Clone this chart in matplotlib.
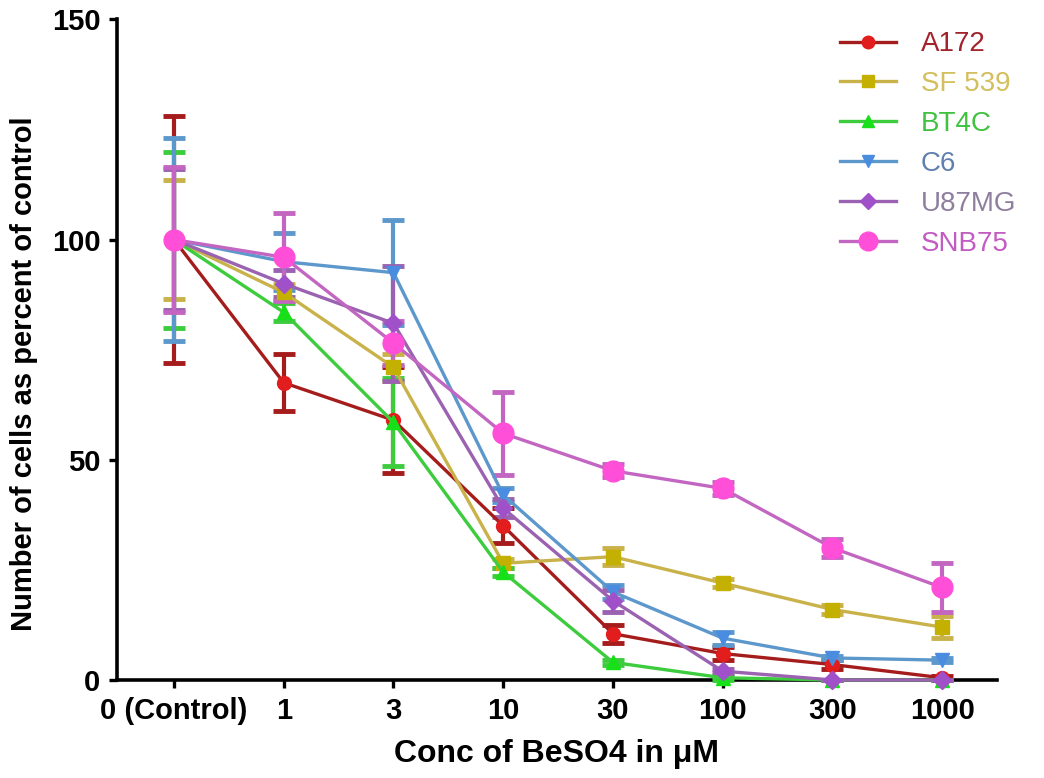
import numpy as np
import matplotlib
matplotlib.use("Agg")
import matplotlib.pyplot as plt
from matplotlib.lines import Line2D

plt.rcParams["font.family"] = ["Liberation Sans", "DejaVu Sans"]

# --- data: % of control cells for each BeSO4 concentration ---
conc_labels = ["0 (Control)", "1", "3", "10", "30", "100", "300", "1000"]

a172 = [100, 67.5, 59, 35, 10.5, 6, 3.5, 0.5]
a172_err = [28, 6.5, 12, 4, 2, 1.5, 1, 0.5]

sf539 = [100, 88, 71, 26.5, 28, 22, 16, 12]
sf539_err = [13.5, 2, 3, 1, 2, 1, 1, 2.5]

bt4c = [100, 83.5, 58.5, 24.5, 4, 0.5, 0, 0]
bt4c_err = [20, 2, 10, 1, 0.5, 0.5, 0, 0]

c6 = [100, 95, 92.5, 42, 20, 9.5, 5, 4.5]
c6_err = [23, 6.5, 12, 1.5, 1.5, 1.5, 0.5, 0.5]

u87mg = [100, 90, 81, 39, 18, 2, 0, 0]
u87mg_err = [16, 3, 13, 2, 2.5, 0.5, 0, 0]

snb75 = [100, 96, 76.5, 56, 47.5, 43.5, 30, 21]
snb75_err = [16.5, 10, 5, 9.5, 1.5, 1.5, 2, 5.5]

# name, values, errors, line colour, marker colour, text colour, marker, size
series = [
    ("A172", a172, a172_err, "#a51c1c", "#e11d1d", "#a3222c", "o", 10),
    ("SF 539", sf539, sf539_err, "#c9b24a", "#c4b000", "#d3bf5e", "s", 10),
    ("BT4C", bt4c, bt4c_err, "#3dcc3d", "#18e018", "#3fc23f", "^", 10),
    ("C6", c6, c6_err, "#5d98cc", "#4a8de0", "#5f7fae", "v", 10),
    ("U87MG", u87mg, u87mg_err, "#9a62b0", "#a050c8", "#8e7f9e", "D", 9),
    ("SNB75", snb75, snb75_err, "#c266c2", "#ff4fd8", "#c25cc2", "o", 15),
]

x = np.arange(len(conc_labels))

fig = plt.figure(figsize=(10.44, 7.78), dpi=100)
ax = fig.add_axes([0.112, 0.126, 0.843, 0.849])

handles = []
for name, vals, err, lc, mc, tc, mk, ms in series:
    ax.errorbar(x, vals, yerr=err, color=lc, linewidth=2.4,
                marker=mk, markersize=ms, markerfacecolor=mc,
                markeredgecolor=mc, ecolor=lc, elinewidth=3,
                capsize=8, capthick=3.5, clip_on=False, zorder=3)
    # legend keys show only line + marker, no error bars
    handles.append(Line2D([], [], color=lc, linewidth=2.4, marker=mk,
                          markersize=ms * 0.9, markerfacecolor=mc,
                          markeredgecolor=mc, label=name))

ax.set_xlim(-0.52, 7.5)
ax.set_ylim(0, 150)
ax.set_xticks(x)
ax.set_xticklabels(conc_labels)
ax.set_yticks([0, 50, 100, 150])

for side in ("top", "right"):
    ax.spines[side].set_visible(False)
for side in ("left", "bottom"):
    ax.spines[side].set_linewidth(2.6)
    ax.spines[side].set_zorder(2)

ax.tick_params(axis="both", width=2.4, length=6, labelsize=21, pad=6)
for lbl in ax.get_xticklabels() + ax.get_yticklabels():
    lbl.set_fontweight("bold")

ax.set_xlabel("Conc of BeSO4 in μM", fontsize=23, fontweight="bold", labelpad=10)
ax.set_ylabel("Number of cells as percent of control", fontsize=21,
              fontweight="bold")
ax.yaxis.set_label_coords(-0.09, 0.464)

leg = ax.legend(handles=handles, loc="upper right", bbox_to_anchor=(1.05, 1.02),
                frameon=False, fontsize=20, handlelength=2.0,
                labelspacing=0.5, handletextpad=0.9)
for txt, s in zip(leg.get_texts(), series):
    txt.set_color(s[5])

fig.savefig("out.png", dpi=100)
